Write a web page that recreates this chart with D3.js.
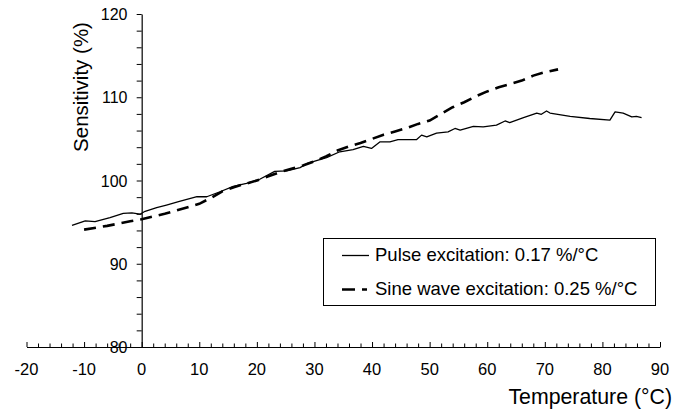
<!DOCTYPE html>
<html>
<head>
<meta charset="utf-8">
<script src="https://cdn.jsdelivr.net/npm/d3@7/dist/d3.min.js"></script>
<style>
  html, body { margin: 0; padding: 0; background: #fff; }
  svg text { font-family: "Liberation Sans", Arial, sans-serif; fill: #000; }
</style>
</head>
<body>
<svg id="chart" width="684" height="411"></svg>
<script>
// Pulse excitation measurement: temperature (°C) and sensitivity (%)
const pulseTemp = [-12.1, -9.8, -8.1, -5.5, -3.2, -1.7, -0.3, 0.6, 2.6, 4.3, 6.4, 9.6, 11.3, 13.6, 15.9, 18.2, 20.5, 23.1, 25.2, 27.5, 28.9, 32.1, 34.4, 36.7, 38.5, 39.9, 41.4, 43.1, 44.5, 47.7, 48.6, 49.5, 51.2, 53.2, 54.4, 55.3, 57.6, 59.3, 61.6, 63.1, 63.9, 66.3, 68.6, 69.4, 70.3, 70.9, 74.4, 77.8, 81.3, 82.2, 83.6, 85.1, 85.9, 86.8];
const pulseSens = [94.6, 95.15, 95.05, 95.55, 96.05, 96.1, 95.95, 96.3, 96.75, 97.05, 97.45, 98.05, 98.05, 98.65, 99.3, 99.65, 100.15, 101.1, 101.15, 101.55, 102.1, 102.75, 103.45, 103.7, 104.1, 103.85, 104.65, 104.65, 104.9, 104.9, 105.45, 105.25, 105.7, 105.85, 106.25, 106.05, 106.5, 106.45, 106.65, 107.15, 106.95, 107.55, 108.1, 107.95, 108.35, 108.1, 107.7, 107.45, 107.25, 108.25, 108.1, 107.65, 107.7, 107.55];

// Sine wave excitation measurement
const sineTemp = [-10, -6, -2, 0, 4, 8, 10, 12, 14, 16, 18, 20, 22, 24, 26, 28, 30, 32, 34, 36, 38, 40, 42, 44, 46, 48, 50, 52, 54, 56, 58, 60, 62, 64, 66, 68, 70, 72.3];
const sineSens = [94.1, 94.55, 95.1, 95.35, 96.0, 96.8, 97.2, 97.9, 98.7, 99.2, 99.6, 100.0, 100.5, 101.0, 101.4, 101.8, 102.3, 102.9, 103.6, 104.1, 104.5, 105.0, 105.5, 105.9, 106.3, 106.8, 107.2, 108.0, 108.8, 109.4, 110.1, 110.7, 111.2, 111.6, 112.0, 112.6, 113.0, 113.35];

const xTicks = [-20, -10, 0, 10, 20, 30, 40, 50, 60, 70, 80, 90];
const yTicks = [80, 90, 100, 110, 120];
const legendLabels = ["Pulse excitation: 0.17 %/°C", "Sine wave excitation: 0.25 %/°C"];

const svg = d3.select("#chart");

const x = d3.scaleLinear().domain([-20, 90]).range([26.5, 660]);
const y = d3.scaleLinear().domain([80, 120]).range([347, 14]);

// x axis: line at y=80, ticks pointing up
const xAxis = d3.axisBottom(x)
  .tickValues(d3.range(-20, 91, 2))
  .tickSizeInner(0).tickSizeOuter(0)
  .tickFormat("");
const gx = svg.append("g").attr("transform", `translate(0,${y(80)})`).call(xAxis);
gx.select(".domain").attr("stroke", "#000").attr("stroke-width", 1.2);
gx.selectAll(".tick line")
  .attr("stroke", "#000")
  .attr("y2", d => (d % 10 === 0 ? -5 : -3.5));

svg.append("g").selectAll("text").data(xTicks).join("text")
  .attr("x", d => x(d))
  .attr("y", 375)
  .attr("text-anchor", "middle")
  .attr("font-size", 16.5)
  .text(d => d);

// y axis at x=0, ticks pointing left
const yAxis = d3.axisLeft(y)
  .tickValues(d3.range(80, 121, 2))
  .tickSizeInner(5).tickSizeOuter(0)
  .tickFormat("");
const gy = svg.append("g").attr("transform", `translate(${x(0)},0)`).call(yAxis);
gy.select(".domain").attr("stroke", "#000").attr("stroke-width", 1.2);
gy.selectAll(".tick line").attr("stroke", "#000");

svg.append("g").selectAll("text").data(yTicks).join("text")
  .attr("x", 127.5)
  .attr("y", d => y(d) + 6)
  .attr("text-anchor", "end")
  .attr("font-size", 16)
  .text(d => d);

// axis titles
svg.append("text")
  .attr("transform", `translate(88,87) rotate(-90)`)
  .attr("text-anchor", "middle")
  .attr("font-size", 20.5)
  .text("Sensitivity (%)");

svg.append("text")
  .attr("x", 672)
  .attr("y", 403.5)
  .attr("text-anchor", "end")
  .attr("font-size", 21.3)
  .text("Temperature (°C)");

// data lines
const line = d3.line().x(d => x(d[0])).y(d => y(d[1]));

svg.append("path")
  .datum(pulseTemp.map((t, i) => [t, pulseSens[i]]))
  .attr("fill", "none")
  .attr("stroke", "#000")
  .attr("stroke-width", 1.3)
  .attr("stroke-linejoin", "round")
  .attr("d", line);

svg.append("path")
  .datum(sineTemp.map((t, i) => [t, sineSens[i]]))
  .attr("fill", "none")
  .attr("stroke", "#000")
  .attr("stroke-width", 2.6)
  .attr("stroke-dasharray", "12,7")
  .attr("d", line);

// legend
const lg = svg.append("g");
lg.append("rect")
  .attr("x", 323.5).attr("y", 238.5)
  .attr("width", 332).attr("height", 67)
  .attr("fill", "#fff").attr("stroke", "#000").attr("stroke-width", 1);

lg.append("line")
  .attr("x1", 342).attr("x2", 369).attr("y1", 255.5).attr("y2", 255.5)
  .attr("stroke", "#000").attr("stroke-width", 1.3);
lg.append("line")
  .attr("x1", 342).attr("x2", 367).attr("y1", 289.5).attr("y2", 289.5)
  .attr("stroke", "#000").attr("stroke-width", 2.6)
  .attr("stroke-dasharray", "13,7");

lg.selectAll("text.lab").data(legendLabels).join("text")
  .attr("class", "lab")
  .attr("x", 375)
  .attr("y", (d, i) => 260.5 + i * 34)
  .attr("font-size", 18.5)
  .text(d => d);
</script>
</body>
</html>
